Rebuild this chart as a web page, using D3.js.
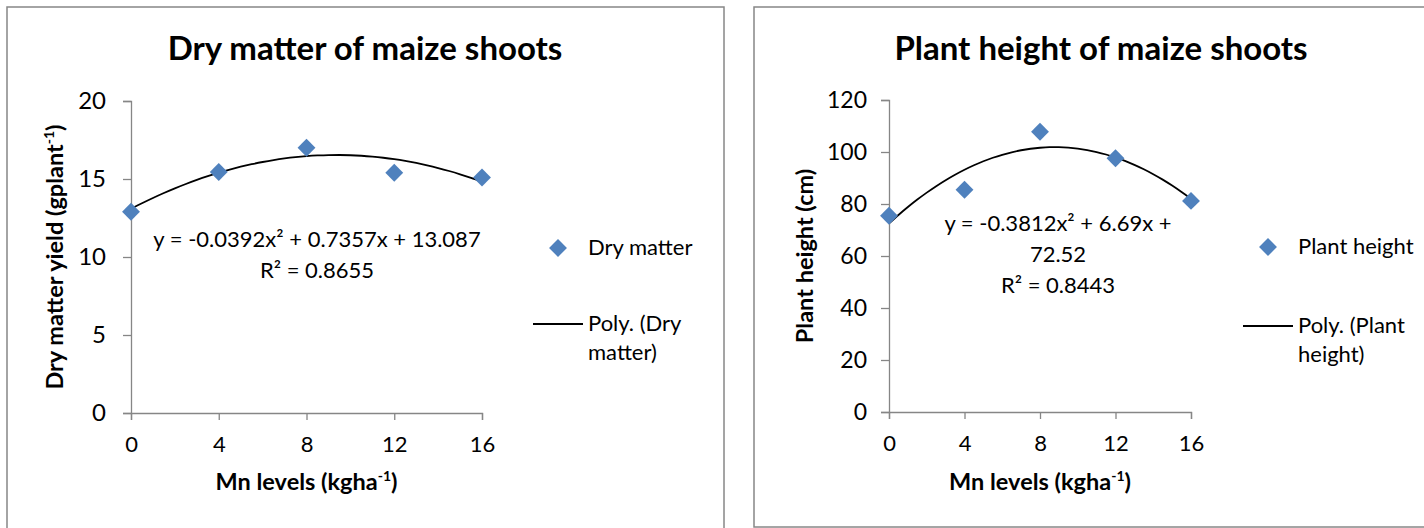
<!DOCTYPE html>
<html>
<head>
<meta charset="utf-8">
<script src="https://cdn.jsdelivr.net/npm/d3@7"></script>
<style>
  body { margin: 0; background: #fff; }
  svg { display: block; font-family: Lato, "Open Sans", sans-serif; }
  .axis path, .axis line { stroke: #868686; stroke-width: 1.3; }
  .axis text { fill: #000; }
</style>
</head>
<body>
<div id="chart"></div>
<script>
// data
var mnLevels = [0, 4, 8, 12, 16];
var dryMatter = [12.9, 15.45, 17.0, 15.4, 15.1];
var plantHeight = [75.5, 85.5, 107.8, 97.6, 81.2];

// trendline coefficients, as printed on the charts (c0 + c1 x + c2 x^2)
var dryMatterPoly = [13.087, 0.7357, -0.0392];
var plantHeightPoly = [72.52, 6.69, -0.3812];

var dryMatterTicks = [0, 5, 10, 15, 20];
var plantHeightTicks = [0, 20, 40, 60, 80, 100, 120];

var svg = d3.select("#chart").append("svg")
    .attr("width", 1424)
    .attr("height", 528);

var charts = [
  {
    box: [7, 7, 717, 540],
    plot: {left: 131, right: 482, top: 101, bottom: 413},
    title: "Dry matter of maize shoots", titleX: 365,
    yTitle: ["Dry matter yield (gplant", "-1", ")"], yTitleX: 63,
    yTickSize: "24px", yTickPad: 17,
    values: dryMatter, yTicks: dryMatterTicks, poly: dryMatterPoly,
    eq: ["y = -0.0392x² + 0.7357x + 13.087", "R² = 0.8655"], eqX: 317, eqY: 247,
    legend: {x: 558, y: 248, name: "Dry matter", poly: ["Poly. (Dry", "matter)"], lineY: 324}
  },
  {
    box: [754, 7, 700, 520],
    plot: {left: 889, right: 1191, top: 100, bottom: 412},
    title: "Plant height of maize shoots", titleX: 1101,
    yTitle: ["Plant height (cm)"], yTitleX: 813,
    yTickSize: "23px", yTickPad: 14,
    values: plantHeight, yTicks: plantHeightTicks, poly: plantHeightPoly,
    eq: ["y = -0.3812x² + 6.69x +", "72.52", "R² = 0.8443"], eqX: 1058, eqY: 231,
    legend: {x: 1268, y: 247, name: "Plant height", poly: ["Poly. (Plant", "height)"], lineY: 326}
  }
];

charts.forEach(drawChart);

function drawChart(c) {
  var g = svg.append("g");

  g.append("rect")
    .attr("x", c.box[0]).attr("y", c.box[1])
    .attr("width", c.box[2]).attr("height", c.box[3])
    .attr("fill", "#fff")
    .attr("stroke", "#878787")
    .attr("stroke-width", 1.5);

  var x = d3.scaleLinear().domain([0, 16]).range([c.plot.left, c.plot.right]);
  var y = d3.scaleLinear()
      .domain([0, d3.max(c.yTicks)])
      .range([c.plot.bottom, c.plot.top]);

  g.append("text")
    .attr("x", c.titleX).attr("y", 60)
    .attr("text-anchor", "middle")
    .style("font-size", "33px").style("font-weight", "bold")
    .text(c.title);

  var xAxis = g.append("g")
    .attr("class", "axis")
    .attr("transform", "translate(0," + c.plot.bottom + ")")
    .call(d3.axisBottom(x).tickValues(mnLevels).tickSize(7).tickPadding(16));
  xAxis.selectAll("text").style("font-size", "22px").style("font-family", "Lato");

  var yAxis = g.append("g")
    .attr("class", "axis")
    .attr("transform", "translate(" + c.plot.left + ",0)")
    .call(d3.axisLeft(y).tickValues(c.yTicks).tickSize(8).tickPadding(c.yTickPad));
  yAxis.selectAll("text").style("font-size", c.yTickSize).style("font-family", "Lato");

  // x axis title
  var xt = g.append("text")
    .attr("x", (c.plot.left + c.plot.right) / 2).attr("y", 490)
    .attr("text-anchor", "middle")
    .style("font-size", "23.5px").style("font-weight", "bold");
  xt.append("tspan").text("Mn levels (kgha");
  xt.append("tspan").attr("dy", -9).style("font-size", "14px").text("-1");
  xt.append("tspan").attr("dy", 9).text(")");

  // y axis title
  var yt = g.append("text")
    .attr("transform", "translate(" + c.yTitleX + "," + ((c.plot.top + c.plot.bottom) / 2) + ") rotate(-90)")
    .attr("text-anchor", "middle")
    .style("font-size", "23.5px").style("font-weight", "bold");
  yt.append("tspan").text(c.yTitle[0]);
  if (c.yTitle.length > 1) {
    yt.append("tspan").attr("dy", -9).style("font-size", "14px").text(c.yTitle[1]);
    yt.append("tspan").attr("dy", 9).text(c.yTitle[2]);
  }

  // trendline
  var line = d3.line()
      .x(function(d) { return x(d); })
      .y(function(d) { return y(c.poly[0] + c.poly[1] * d + c.poly[2] * d * d); })
      .curve(d3.curveMonotoneX);
  g.append("path")
    .datum(d3.range(0, 16.001, 0.5))
    .attr("d", line)
    .attr("fill", "none")
    .attr("stroke", "#000")
    .attr("stroke-width", 1.8);

  // points
  var diamond = d3.symbol().type(d3.symbolSquare).size(160);
  g.selectAll(".dot")
    .data(c.values)
    .enter().append("path")
    .attr("class", "dot")
    .attr("d", diamond)
    .attr("transform", function(d, i) { return "translate(" + x(mnLevels[i]) + "," + y(d) + ") rotate(45)"; })
    .attr("fill", "#4F81BD");

  // equation label
  g.selectAll(".eq")
    .data(c.eq)
    .enter().append("text")
    .attr("class", "eq")
    .attr("x", c.eqX)
    .attr("y", function(d, i) { return c.eqY + i * 31; })
    .attr("text-anchor", "middle")
    .style("font-size", "22px")
    .text(function(d) { return d; });

  // legend
  var lg = c.legend;
  g.append("path")
    .attr("d", diamond)
    .attr("transform", "translate(" + lg.x + "," + lg.y + ") rotate(45)")
    .attr("fill", "#4F81BD");
  g.append("text")
    .attr("x", lg.x + 30).attr("y", lg.y + 7)
    .style("font-size", "22px")
    .text(lg.name);
  g.append("line")
    .attr("x1", lg.x - 25).attr("x2", lg.x + 25)
    .attr("y1", lg.lineY).attr("y2", lg.lineY)
    .attr("stroke", "#000").attr("stroke-width", 1.8);
  g.selectAll(".lgpoly")
    .data(lg.poly)
    .enter().append("text")
    .attr("class", "lgpoly")
    .attr("x", lg.x + 30)
    .attr("y", function(d, i) { return lg.lineY + 7 + i * 29; })
    .style("font-size", "22px")
    .text(function(d) { return d; });
}
</script>
</body>
</html>
